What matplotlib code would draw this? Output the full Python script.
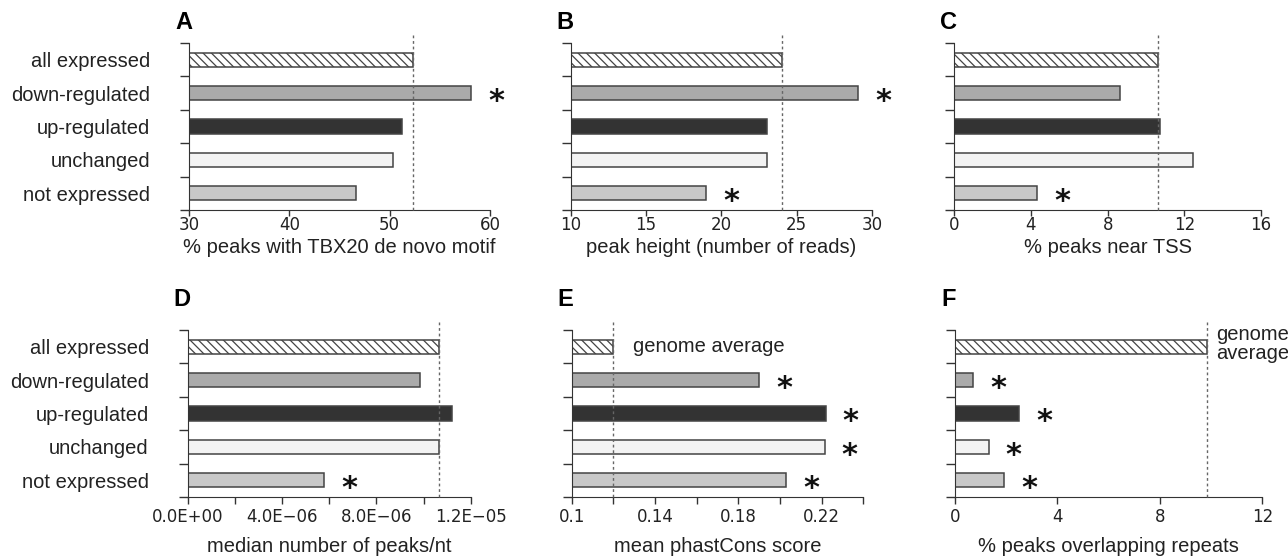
import matplotlib
matplotlib.use("Agg")
import matplotlib.pyplot as plt
import numpy as np

# categories, top to bottom
categories = ["all expressed", "down-regulated", "up-regulated", "unchanged", "not expressed"]

# panel values (same order as categories)
vals_a = [52.3, 58.1, 51.2, 50.3, 46.6]
vals_b = [24.05, 29.1, 23.05, 23.05, 19.0]
vals_c = [10.62, 8.63, 10.73, 12.44, 4.33]
vals_d = [10.66e-6, 9.87e-6, 11.19e-6, 10.66e-6, 5.78e-6]
vals_e = [0.12, 0.19, 0.222, 0.2215, 0.203]
vals_f = [9.83, 0.72, 2.51, 1.32, 1.91]

# significance stars
star_a = [False, True, False, False, False]
star_b = [False, True, False, False, True]
star_c = [False, False, False, False, True]
star_d = [False, False, False, False, True]
star_e = [False, True, True, True, True]
star_f = [False, True, True, True, True]

# x axis ticks and labels
ticks_a = [30, 40, 50, 60]
ticks_b = [10, 15, 20, 25, 30]
ticks_c = [0, 4, 8, 12, 16]
ticks_d = [0, 2e-6, 4e-6, 6e-6, 8e-6, 10e-6, 12e-6]
labels_d = ["0.0E+00", "", "4.0E\u221206", "", "8.0E\u221206", "", "1.2E\u221205"]
ticks_e = [0.10, 0.12, 0.14, 0.16, 0.18, 0.20, 0.22, 0.24]
labels_e = ["0.1", "", "0.14", "", "0.18", "", "0.22", ""]
ticks_f = [0, 4, 8, 12]

xlabels = [
    "% peaks with TBX20 de novo motif",
    "peak height (number of reads)",
    "% peaks near TSS",
    "median number of peaks/nt",
    "mean phastCons score",
    "% peaks overlapping repeats",
]
letters = ["A", "B", "C", "D", "E", "F"]

colors = ["white", "#aaaaaa", "#333333", "#f3f3f3", "#c8c8c8"]
hatches = ["\\\\\\\\", None, None, None, None]

W, H = 1288, 557
fig = plt.figure(figsize=(W / 100, H / 100), dpi=100)
fig.patch.set_facecolor("white")
plt.rcParams["hatch.linewidth"] = 0.9

# pixel boxes: left, right, bottom axis y, letter top y, tick length, tick pad, label pad
boxes = [
    (189, 490, 210, 14, 4, 0, 3), (570.7, 872, 210, 14, 4, 0, 3),
    (954.3, 1261, 210, 14, 4, 0, 3),
    (187.7, 470.7, 497, 291, 5, 3, 8), (571.7, 863.3, 497, 291, 5, 3, 8),
    (955, 1262.3, 497, 291, 5, 3, 8),
]
panel_vals = [vals_a, vals_b, vals_c, vals_d, vals_e, vals_f]
panel_stars = [star_a, star_b, star_c, star_d, star_e, star_f]
panel_ticks = [ticks_a, ticks_b, ticks_c, ticks_d, ticks_e, ticks_f]
panel_tlabels = [None, None, None, labels_d, labels_e, None]

ypos = np.arange(len(categories))[::-1] + 1.0  # 5 at top
edge = "#444444"

for i in range(6):
    l, r, b, lt, tlen, tpad, lpad = boxes[i]
    top = b - 175
    ax = fig.add_axes([l / W, 1 - b / H, (r - l) / W, (b - top) / H])
    vals = panel_vals[i]
    ticks = panel_ticks[i]

    for j in range(len(categories)):
        ax.barh(ypos[j], vals[j] - ticks[0], left=ticks[0], height=0.42,
                color=colors[j], edgecolor=edge, linewidth=1.1,
                hatch=hatches[j], zorder=2)
        if panel_stars[i][j]:
            ax.annotate("*", xy=(vals[j], ypos[j]), xytext=(18, -6),
                        textcoords="offset points", ha="center", va="center",
                        fontsize=22, fontweight="bold", color="#111111",
                        annotation_clip=False)

    # reference line at the all-expressed value
    ax.axvline(vals[0], color="#666666", linestyle=(0, (2, 2)), linewidth=1.0,
               zorder=3, clip_on=False)

    ax.set_xlim(ticks[0], ticks[-1])
    ax.set_ylim(0.5, 5.74)
    ax.set_xticks(ticks)
    if panel_tlabels[i] is not None:
        ax.set_xticklabels(panel_tlabels[i])
    ax.set_yticks(np.arange(0.5, 6.0, 1.0))
    ax.set_yticklabels([])
    ax.tick_params(axis="y", which="major", length=6.5, width=1, color="#333333")
    ax.tick_params(axis="x", length=tlen, width=1, color="#333333", pad=tpad,
                   labelsize=12, labelcolor="#222222")
    for lab in ax.get_xticklabels():
        lab.set_family("DejaVu Sans")

    if i in (0, 3):
        ax.set_yticks(ypos, minor=True)
        ax.set_yticklabels(categories, minor=True, fontsize=14.5,
                           family="Liberation Sans", color="#222222")
        ax.tick_params(axis="y", which="minor", length=0, pad=28)

    for s in ("top", "right"):
        ax.spines[s].set_visible(False)
    ax.spines["left"].set_bounds(0.5, 5.5)
    ax.spines["left"].set_color("#333333")
    ax.spines["bottom"].set_color("#333333")

    ax.set_xlabel(xlabels[i], fontsize=14.5, family="Liberation Sans",
                  color="#222222", labelpad=lpad)

    # panel letter
    fig.text((l - 14) / W, 1 - (lt - 3) / H, letters[i], fontsize=17,
             fontweight="bold", family="Liberation Sans", va="top", ha="left")

    if i == 4:
        ax.annotate("genome average", xy=(vals[0], ypos[0]), xytext=(14, 0),
                    textcoords="offset points", va="center", ha="left",
                    fontsize=14.5, family="Liberation Sans", color="#222222")
    if i == 5:
        ax.annotate("genome\naverage", xy=(vals[0], ypos[0]), xytext=(7, 2),
                    textcoords="offset points", va="center", ha="left",
                    fontsize=14.5, family="Liberation Sans", color="#222222",
                    linespacing=1.05, annotation_clip=False)

fig.savefig("out.png", dpi=100)
